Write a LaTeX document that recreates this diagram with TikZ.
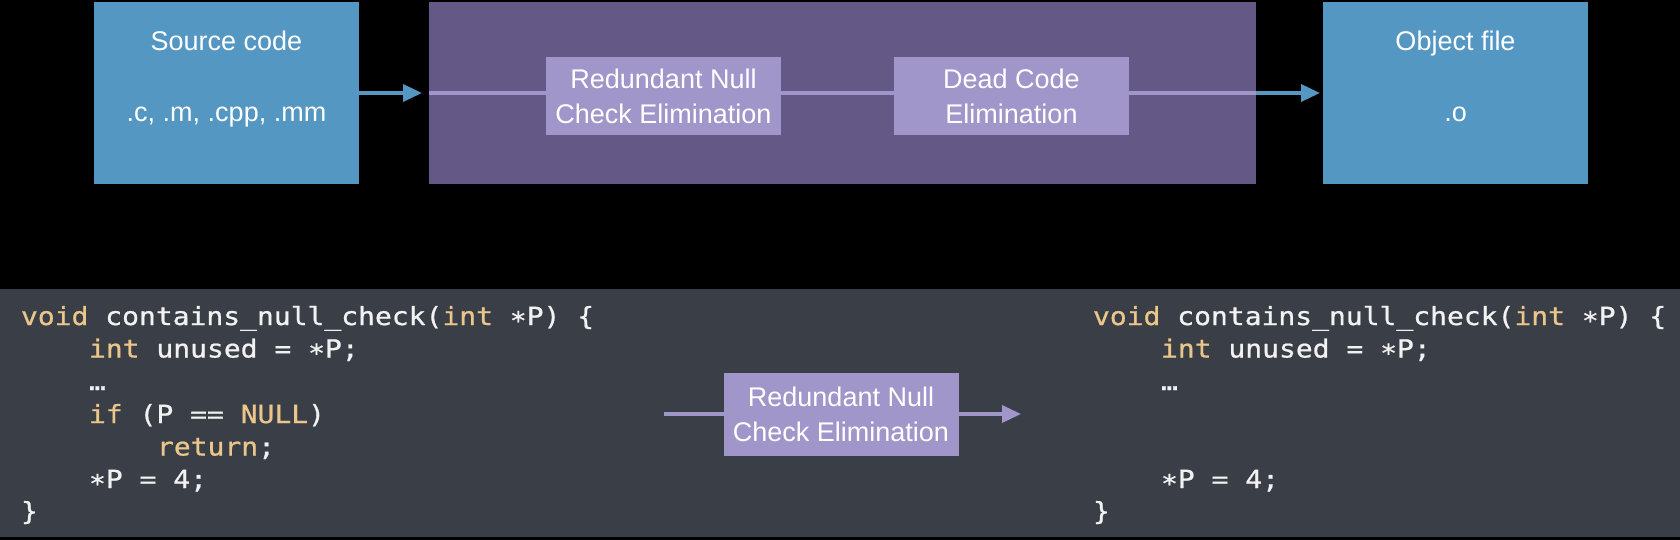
\documentclass[tikz,border=0pt]{standalone}
\usepackage{fontspec}
\setmainfont{Liberation Sans}
\newfontfamily\codefont[FakeStretch=1.12,FakeBold=0.8]{DejaVu Sans Mono}
\usetikzlibrary{arrows.meta}
\definecolor{srcblue}{HTML}{5497C2}
\definecolor{pipepurple}{HTML}{645887}
\definecolor{lpurple}{HTML}{A096CA}
\definecolor{panelgray}{HTML}{3A3F47}
\definecolor{kw}{HTML}{EAC68B}
\definecolor{codetext}{HTML}{F2F2F2}
\newcommand\cstar{\raisebox{-0.18em}{*}}
\newcommand\lblfont{\fontsize{27}{35}\selectfont}
\newcommand\cdfont{\codefont\fontsize{25}{30}\selectfont}
\begin{document}
\begin{tikzpicture}[x=1pt,y=-1pt,
  every node/.style={inner sep=0pt, outer sep=0pt},
  filebox/.style={fill=srcblue, minimum width=265pt, minimum height=182pt},
  passbox/.style={fill=lpurple, minimum width=235pt, minimum height=78pt, align=center, text=white, font=\lblfont},
  lbl/.style={anchor=base, text=white, font=\lblfont},
  code/.style={anchor=base west, text=codetext, font=\cdfont},
  bluearrow/.style={draw=srcblue, line width=3.5pt, -{Triangle[length=19pt,width=17pt]}},
  lline/.style={draw=lpurple, line width=3.5pt},
  larrow/.style={draw=lpurple, line width=3.5pt, -{Triangle[length=19pt,width=17pt]}},
]
\useasboundingbox (0,0) rectangle (1680,540);
\fill[black] (0,0) rectangle (1680,540);

% top pipeline
\node[filebox] (src) at (226.5,93) {};
\node[lbl] (srctitle) at (226.5,51) {Source code};
\node[lbl] (srcext) at (226.5,122) {.c, .m, .cpp, .mm};

\node[fill=pipepurple, minimum width=827pt, minimum height=182pt] (pipe) at (842.5,93) {};
\node[passbox] (rnce) at (663.5,96) {Redundant Null\\Check Elimination};
\node[passbox] (dce) at (1011.5,96) {Dead Code\\Elimination};

\node[filebox] (obj) at (1455.5,93) {};
\node[lbl] (objtitle) at (1455.5,51) {Object file};
\node[lbl] (objext) at (1455.5,122) {.o};

\draw[bluearrow, shorten >=7pt] (src.east) -- (pipe.west);
\draw[lline] (pipe.west) -- (rnce.west |- pipe.west);
\draw[lline] (rnce.east |- pipe.west) -- (dce.west |- pipe.west);
\draw[lline] (dce.east |- pipe.east) -- (pipe.east);
\draw[bluearrow, shorten >=3pt] (pipe.east) -- (obj.west);

% bottom panel
\fill[panelgray] (0,289) rectangle (1680,537);

\node[code] (l1) at (21,325) {\textcolor{kw}{void} contains\_null\_check(\textcolor{kw}{int} \cstar P) \{};
\node[code] (l2) at (89,357.5) {\textcolor{kw}{int} unused = \cstar P;};
\node[code] (l3) at (89,390) {…};
\node[code] (l4) at (89,423) {\textcolor{kw}{if} (P == \textcolor{kw}{NULL})};
\node[code] (l5) at (157,455.5) {\textcolor{kw}{return};};
\node[code] (l6) at (89,488) {\cstar P = 4;};
\node[code] (l7) at (21,520) {\}};

\coordinate (inpt) at (664,414);
\coordinate (outpt) at (1021,414);
\node[passbox, minimum height=83pt] (rnce2) at (841,414) {Redundant Null\\Check Elimination};
\draw[lline] (inpt) -- (rnce2.west);
\draw[larrow] (rnce2.east) -- (outpt);

\node[code] (r1) at (1093,325) {\textcolor{kw}{void} contains\_null\_check(\textcolor{kw}{int} \cstar P) \{};
\node[code] (r2) at (1161,357.5) {\textcolor{kw}{int} unused = \cstar P;};
\node[code] (r3) at (1161,390) {…};
\node[code] (r6) at (1161,488) {\cstar P = 4;};
\node[code] (r7) at (1093,520) {\}};
\end{tikzpicture}
\end{document}
